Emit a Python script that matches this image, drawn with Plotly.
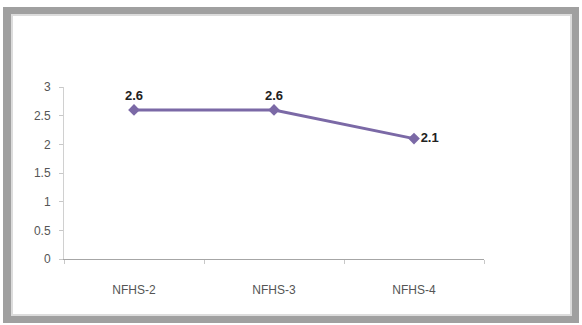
import plotly.graph_objects as go

categories = ["NFHS-2", "NFHS-3", "NFHS-4"]
values = [2.6, 2.6, 2.1]
label_pos = ["top center", "top center", "middle right"]
y_ticks = [0, 0.5, 1, 1.5, 2, 2.5, 3]
y_tick_text = ["0", "0.5", "1", "1.5", "2", "2.5", "3"]

W, H = 582, 325
L, R, T, B = 64, 98, 87, 66
pw, ph = W - L - R, H - T - B

def px(x):
    return (x - L) / pw

def py(y):
    return (H - B - y) / ph

fig = go.Figure()
fig.add_trace(go.Scatter(
    x=[0, 1, 2], y=values, mode="lines+markers+text",
    line=dict(color="#7b69a6", width=3),
    marker=dict(symbol="diamond", size=9, color="#7b69a6"),
    text=[f"{v:.1f}" for v in values], textposition=label_pos,
    textfont=dict(family="Liberation Sans Narrow, Liberation Sans, sans-serif", size=13, color="#222222"),
    texttemplate="<b>%{text}</b>",
    cliponaxis=False, showlegend=False,
))

shapes = [
    dict(type="rect", xref="paper", yref="paper",
         x0=px(7), x1=px(575), y0=py(11), y1=py(319),
         line=dict(color="#a0a0a0", width=8), fillcolor="rgba(0,0,0,0)", layer="below"),
    dict(type="rect", xref="paper", yref="paper",
         x0=px(12), x1=px(571), y0=py(15), y1=py(315),
         line=dict(color="#dcdcdc", width=2), fillcolor="rgba(0,0,0,0)", layer="below"),
]

fig.update_layout(
    width=W, height=H,
    margin=dict(l=L, r=R, t=T, b=B),
    paper_bgcolor="white", plot_bgcolor="white",
    shapes=shapes,
    font=dict(family="Liberation Sans Narrow, Liberation Sans, sans-serif", size=12, color="#555555"),
    xaxis=dict(range=[-0.5, 2.5], tickvals=[0, 1, 2], ticktext=categories,
               showgrid=False, zeroline=False, showline=True, linecolor="#a6a6a6", linewidth=1,
               ticks="", ticklabelstandoff=20, fixedrange=True,
               minor=dict(tickmode="array", tickvals=[-0.5, 0.5, 1.5, 2.5], ticks="outside",
                          ticklen=4, tickcolor="#c8c8c8", showgrid=False)),
    yaxis=dict(range=[0, 3], tickvals=y_ticks, ticktext=y_tick_text,
               showgrid=False, zeroline=False, showline=True, linecolor="#d0d0d0", linewidth=1,
               ticks="outside", ticklen=4, tickcolor="#c8c8c8", ticklabelstandoff=6, fixedrange=True),
)

fig.write_html("out.html")
